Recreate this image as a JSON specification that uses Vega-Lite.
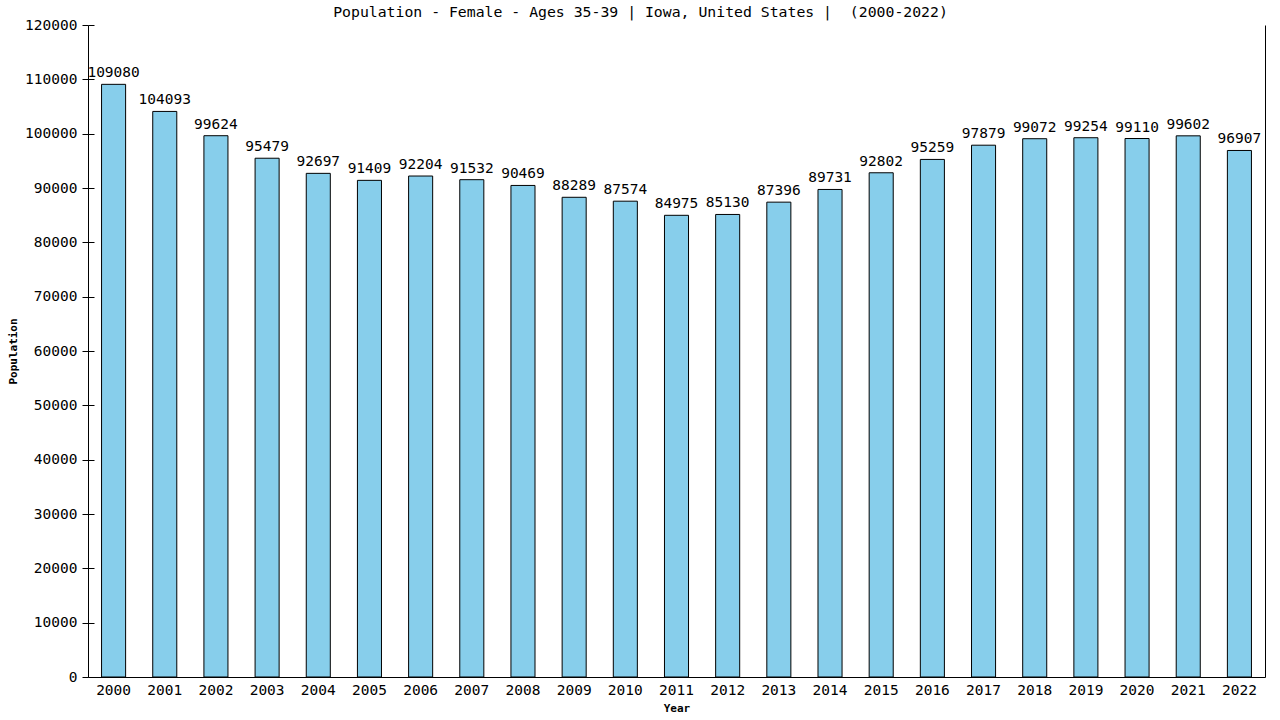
{
  "$schema": "https://vega.github.io/schema/vega-lite/v6.json",
  "description": "Population - Female - Ages 35-39, Iowa, 2000-2022",
  "autosize": "none",
  "width": 1177,
  "height": 652,
  "padding": {"left": 88, "top": 25, "right": 15, "bottom": 43},
  "background": "white",
  "config": {
    "view": {"stroke": null},
    "font": "DejaVu Sans Mono"
  },
  "title": {
    "text": "Population - Female - Ages 35-39 | Iowa, United States | \u00a0(2000-2022)",
    "font": "DejaVu Sans Mono",
    "fontSize": 14.8,
    "fontWeight": "normal",
    "color": "black",
    "frame": "group",
    "anchor": "middle",
    "dx": -36,
    "dy": 21,
    "baseline": "alphabetic",
    "offset": 6
  },
  "data": {
    "values": [
      {"year": "2000", "population": 109080},
      {"year": "2001", "population": 104093},
      {"year": "2002", "population": 99624},
      {"year": "2003", "population": 95479},
      {"year": "2004", "population": 92697},
      {"year": "2005", "population": 91409},
      {"year": "2006", "population": 92204},
      {"year": "2007", "population": 91532},
      {"year": "2008", "population": 90469},
      {"year": "2009", "population": 88289},
      {"year": "2010", "population": 87574},
      {"year": "2011", "population": 84975},
      {"year": "2012", "population": 85130},
      {"year": "2013", "population": 87396},
      {"year": "2014", "population": 89731},
      {"year": "2015", "population": 92802},
      {"year": "2016", "population": 95259},
      {"year": "2017", "population": 97879},
      {"year": "2018", "population": 99072},
      {"year": "2019", "population": 99254},
      {"year": "2020", "population": 99110},
      {"year": "2021", "population": 99602},
      {"year": "2022", "population": 96907}
    ]
  },
  "encoding": {
    "x": {
      "field": "year",
      "type": "ordinal",
      "scale": {"paddingInner": 0.53, "paddingOuter": 0.265},
      "axis": {
        "title": "Year",
        "titleFont": "DejaVu Sans Mono",
        "titleFontSize": 11,
        "titleFontWeight": "bold",
        "titleColor": "black",
        "titleBaseline": "middle",
        "titleY": 31,
        "labelAngle": 0,
        "labelFont": "DejaVu Sans Mono",
        "labelFontSize": 14.5,
        "labelColor": "black",
        "labelPadding": 6,
        "ticks": false,
        "domainColor": "black",
        "domainWidth": 1
      }
    }
  },
  "layer": [
    {
      "mark": {"type": "bar", "fill": "#87CEEB", "stroke": "black", "strokeWidth": 1},
      "encoding": {
        "y": {
          "field": "population",
          "type": "quantitative",
          "scale": {"domain": [0, 120000], "nice": false},
          "axis": {
            "orient": "left",
            "title": "Population",
            "titleFont": "DejaVu Sans Mono",
            "titleFontSize": 11,
            "titleFontWeight": "bold",
            "titleColor": "black",
            "titleX": -75,
            "titleY": 326,
            "titleAngle": 270,
            "titleBaseline": "middle",
            "titleAlign": "center",
            "values": [0, 10000, 20000, 30000, 40000, 50000, 60000, 70000, 80000, 90000, 100000, 110000, 120000],
            "format": "d",
            "labelFont": "DejaVu Sans Mono",
            "labelFontSize": 14.5,
            "labelColor": "black",
            "labelPadding": 5,
            "tickSize": 6,
            "tickColor": "black",
            "domainColor": "black",
            "grid": false
          }
        }
      }
    },
    {
      "mark": {
        "type": "text",
        "baseline": "alphabetic",
        "align": "center",
        "dy": -7,
        "font": "DejaVu Sans Mono",
        "fontSize": 14.5,
        "color": "black"
      },
      "encoding": {
        "y": {
          "field": "population",
          "type": "quantitative",
          "axis": {
            "orient": "left",
            "title": null,
            "values": [0, 10000, 20000, 30000, 40000, 50000, 60000, 70000, 80000, 90000, 100000, 110000, 120000],
            "labels": false,
            "domain": false,
            "tickSize": -6,
            "tickColor": "black",
            "grid": false
          }
        },
        "text": {"field": "population", "type": "quantitative", "format": "d"}
      }
    },
    {
      "mark": {"type": "bar", "opacity": 0},
      "encoding": {
        "y": {
          "field": "population",
          "type": "quantitative",
          "axis": {
            "orient": "right",
            "title": null,
            "labels": false,
            "ticks": false,
            "grid": false,
            "domainColor": "black"
          }
        }
      }
    }
  ],
  "resolve": {"axis": {"y": "independent"}}
}
